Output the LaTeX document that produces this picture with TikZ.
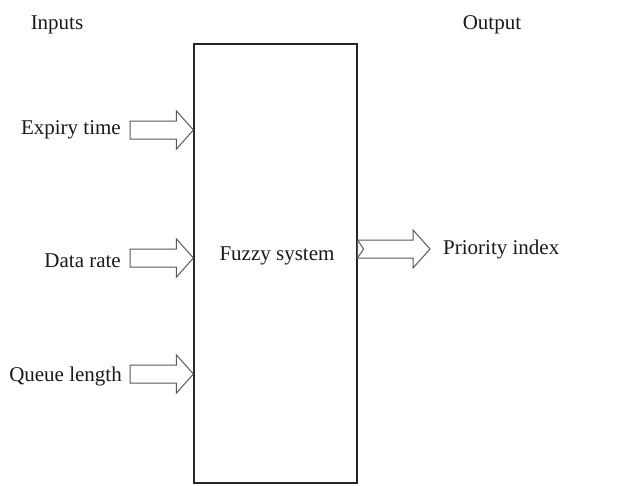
\documentclass[tikz,border=0pt]{standalone}
\usepackage{fontspec}
\setmainfont{Liberation Serif}
\usetikzlibrary{calc}
\newcommand{\fatarrow}[2]% tail, tip
{($(#1)+(0,-9)$) -- ($(#2)+(-17,-9)$) -- ($(#2)+(-17,-19)$) -- (#2)
 -- ($(#2)+(-17,19)$) -- ($(#2)+(-17,9)$) -- ($(#1)+(0,9)$) -- cycle
}
\tikzset{lbl/.style={font=\fontsize{21}{24}\selectfont, text=black!90, inner sep=0pt}}
\begin{document}
\begin{tikzpicture}[x=1pt,y=-1pt]
	\useasboundingbox (0,0) rectangle (643,485);
	\node[draw, black!85, line width=1.1pt, minimum width=163pt, minimum height=439pt, inner sep=0pt] (sys) at (275.5,263.5) {};
	\node[lbl] (fs) at (277,256) {Fuzzy system};
	\node[lbl] (inp) at (57,25) {Inputs};
	\node[lbl] (outp) at (492,25) {Output};
	\node[lbl, anchor=east] (expiry) at (121,130) {Expiry time};%in 1
	\node[lbl, anchor=east] (rate) at (121,261) {Data rate};%in 2
	\node[lbl, anchor=east] (queue) at (122,376) {Queue length};%in 3
	\node[lbl, anchor=west] (prio) at (443,249) {Priority index};%out
	\coordinate (t1) at (130,130);
	\coordinate (t2) at (130,258);
	\coordinate (t3) at (130,374);
	\coordinate (h1) at (sys.west |- t1);
	\coordinate (h2) at (sys.west |- t2);
	\coordinate (h3) at (sys.west |- t3);
	\draw[black!65, line width=1pt] \fatarrow{t1}{h1};
	\draw[black!65, line width=1pt] \fatarrow{t2}{h2};
	\draw[black!65, line width=1pt] \fatarrow{t3}{h3};
	\coordinate (o1) at (sys.east |- 0,249);
	\coordinate (o2) at (430,249);
	\draw[black!65, line width=1pt] \fatarrow{o1}{o2};
	\draw[black!65, line width=1pt] ($(o1)+(0,-9)$) -- ($(o1)+(6,0)$) -- ($(o1)+(0,9)$);
	\end{tikzpicture}
\end{document}
